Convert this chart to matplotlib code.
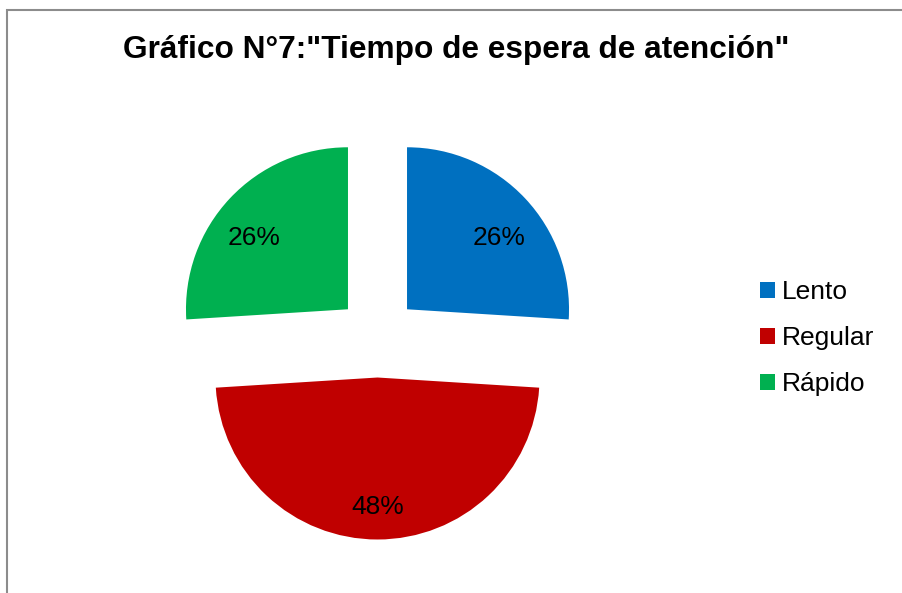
import matplotlib.pyplot as plt
from matplotlib.patches import Rectangle

categorias = ['Lento', 'Regular', 'Rápido']
porcentajes = [26, 48, 26]
colores = ['#0070C0', '#C00000', '#00B050']

plt.rcParams['font.family'] = ['Liberation Sans', 'DejaVu Sans']

W, H = 902, 593
R = 162
fig = plt.figure(figsize=(W / 100, H / 100), dpi=100)
ax = fig.add_axes([0, 0, 1, 1])

# explode in matplotlib is in data units, so scale by the radius
wedges, texts, autotexts = ax.pie(
    porcentajes, colors=colores, startangle=90, counterclock=False,
    explode=[0.25 * R] * 3, center=(377.5, H - 337), radius=R,
    autopct='%.0f%%', pctdistance=0.78,
    wedgeprops=dict(linewidth=0), textprops=dict(fontsize=19, color='black'))
ax.set_xlim(0, W)
ax.set_ylim(0, H)
ax.axis('off')

# Excel sits the labels a little lower, the upper slices more so
for i, t in enumerate(autotexts):
    x, y = t.get_position()
    dx = -2 if i == 2 else 0
    t.set_position((x + dx, y - (3 if i == 1 else 15)))

fig.text(456 / W, 1 - 50 / H, 'Gráfico N°7:"Tiempo de espera de atención"',
         ha='center', va='center', fontsize=22.8, fontweight='bold')

leg = fig.legend(wedges, categorias, loc='center left',
                 bbox_to_anchor=(760 / W, 1 - 338 / H), frameon=False,
                 fontsize=19, handlelength=0.55, handleheight=0.55,
                 handletextpad=0.27, labelspacing=0.83, borderpad=0,
                 borderaxespad=0)

fig.add_artist(Rectangle((7.5 / W, -0.1), 1.2, 1 - 10.5 / H + 0.1,
                         transform=fig.transFigure, fill=False,
                         edgecolor='#8c8c8c', linewidth=1.5))

fig.savefig('out.png', dpi=100)
